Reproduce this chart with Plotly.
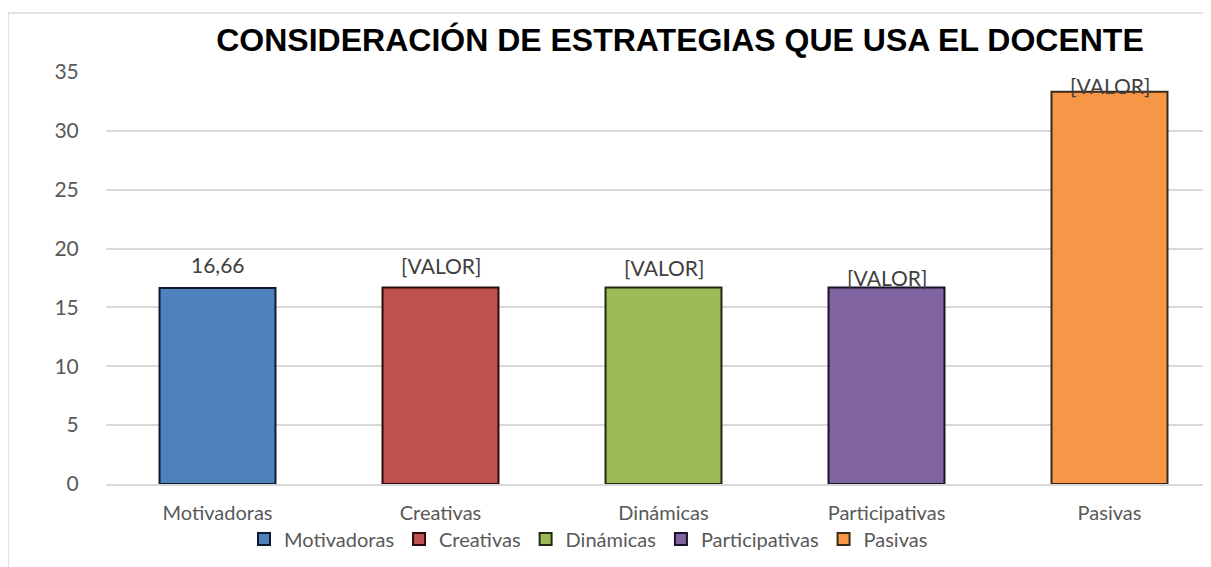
import plotly.graph_objects as go

categories = ["Motivadoras", "Creativas", "Dinámicas", "Participativas", "Pasivas"]
values = [16.66, 16.70, 16.70, 16.70, 33.33]
labels = ["16,66", "[VALOR]", "[VALOR]", "[VALOR]", "[VALOR]"]
colors = ["#4F81BD", "#C0504D", "#9BBB59", "#8064A2", "#F79646"]
edge_colors = ["#0f1a2e", "#2a0c0b", "#1f2a10", "#1a1226", "#3a2a1a"]
label_shift = [23, 22, 20, 10, 6]
y_ticks = [0, 5, 10, 15, 20, 25, 30, 35]

# the page body adds an 8px offset; positions below are compensated for it
OFF = 8
W, H = 1211, 567
L, T = 106 - OFF, 72 - OFF
PH = 412
B = H - T - PH
plot_w = W - L
step = 223.0
FONT = "Lato, Open Sans, sans-serif"

fig = go.Figure()
for c, v, col, ec in zip(categories, values, colors, edge_colors):
    fig.add_trace(go.Bar(
        x=[c], y=[v], name=c, width=0.52,
        marker=dict(color=col, line=dict(color=ec, width=2)),
        hoverinfo="x+y",
    ))

for c, v, lab, sh in zip(categories, values, labels, label_shift):
    fig.add_annotation(x=c, y=v, text=lab, showarrow=False, yshift=sh,
                       font=dict(family=FONT, size=21, color="#404040"))

fig.add_shape(type="rect", xref="paper", yref="paper",
              x0=(8 - OFF - L) / plot_w, x1=1.1, y0=-0.4, y1=1 + (T - (13 - OFF)) / PH,
              line=dict(color="#d9d9d9", width=1.5), fillcolor="rgba(0,0,0,0)", layer="below")

fig.update_layout(
    width=W, height=H,
    margin=dict(l=L, r=0, t=T, b=B, pad=0),
    paper_bgcolor="white", plot_bgcolor="white",
    barmode="overlay",
    title=dict(text="<b>CONSIDERACIÓN DE ESTRATEGIAS QUE USA EL DOCENTE</b>",
               x=(680 - OFF) / W, xanchor="center", y=1 - (40 - OFF) / H, yanchor="middle",
               font=dict(family="Liberation Sans, Arial, sans-serif", size=32, color="#000000")),
    xaxis=dict(range=[-0.5, -0.5 + plot_w / step], showgrid=False,
               showline=True, linecolor="#d9d9d9", linewidth=1.5,
               ticks="outside", ticklen=10, tickcolor="rgba(0,0,0,0)",
               tickfont=dict(family=FONT, size=20, color="#595959")),
    yaxis=dict(range=[0, 35], tickvals=y_ticks, showgrid=True, gridcolor="#d9d9d9", gridwidth=1.5,
               zeroline=False, showline=False,
               ticks="outside", ticklen=22, tickcolor="rgba(0,0,0,0)",
               tickfont=dict(family=FONT, size=21, color="#595959")),
    legend=dict(orientation="h", x=(244 - OFF - L) / plot_w, xanchor="left",
                y=-(539 - 484) / PH, yanchor="middle",
                font=dict(family=FONT, size=20, color="#595959"),
                itemwidth=30, tracegroupgap=0, bgcolor="rgba(0,0,0,0)"),
    showlegend=True,
)

fig.write_html("out.html")
